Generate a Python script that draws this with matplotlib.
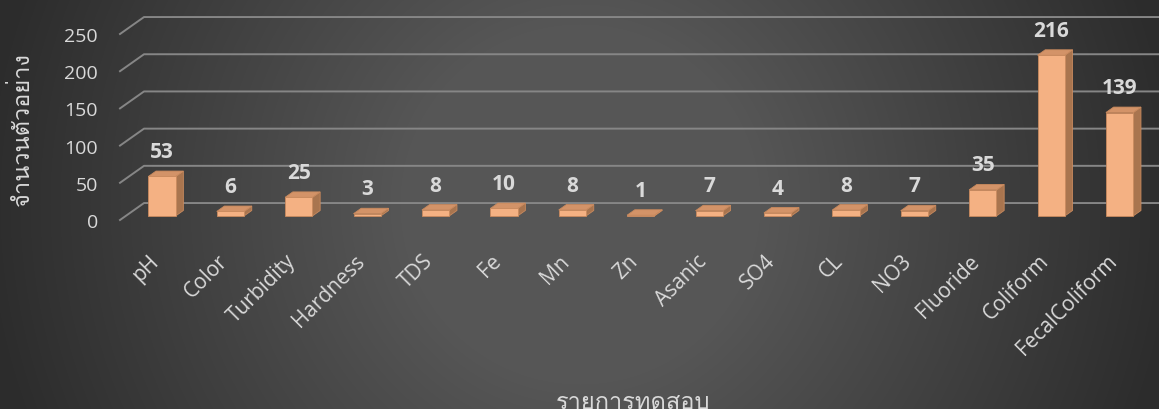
import numpy as np
import matplotlib
matplotlib.use("Agg")
import matplotlib.pyplot as plt
from matplotlib import font_manager
from matplotlib.patches import Polygon

# --- Данные графика ---
categories = ["pH", "Color", "Turbidity", "Hardness", "TDS", "Fe", "Mn", "Zn",
              "Asanic", "SO4", "CL", "NO3", "Fluoride", "Coliform", "FecalColiform"]
sample_counts = [53, 6, 25, 3, 8, 10, 8, 1, 7, 4, 8, 7, 35, 216, 139]
y_ticks = [0, 50, 100, 150, 200, 250]
y_axis_title = "จำนวนตัวอย่าง"
x_axis_title = "รายการทดสอบ"

# --- Геометрия псевдо-3D ---
DEPTH_X = 0.351   # глубина стенки по оси X (в категориях)
DEPTH_Y = 22.8    # глубина стенки по оси Y (в единицах значения)
Z_FRONT = 0.24
Z_BACK = 0.56
BAR_WIDTH = 0.40
PX_PER_CATEGORY = 68.4

TEXT_COLOR = "#D9D9D9"
GRID_COLOR = "#868686"
FRONT_COLOR = "#F4B183"
TOP_COLOR = "#D39368"
SIDE_COLOR = "#A9754F"
EDGE_COLOR = "#C98A5E"


def find_thai_family():
    """Ищет установленный шрифт с тайскими глифами."""
    try:
        from fontTools.ttLib import TTFont
    except ImportError:
        return None
    for entry in font_manager.fontManager.ttflist:
        try:
            cmap = TTFont(entry.fname, fontNumber=0, lazy=True).getBestCmap()
        except Exception:
            continue
        if cmap and 0x0E08 in cmap:
            return entry.name
    return None


def project(x, value, z):
    return x + z * DEPTH_X, value + z * DEPTH_Y


def draw_bar(axes, x, value):
    x0, x1 = x - BAR_WIDTH / 2, x + BAR_WIDTH / 2
    front = [project(x0, 0, Z_FRONT), project(x1, 0, Z_FRONT),
             project(x1, value, Z_FRONT), project(x0, value, Z_FRONT)]
    top = [project(x0, value, Z_FRONT), project(x1, value, Z_FRONT),
           project(x1, value, Z_BACK), project(x0, value, Z_BACK)]
    side = [project(x1, 0, Z_FRONT), project(x1, 0, Z_BACK),
            project(x1, value, Z_BACK), project(x1, value, Z_FRONT)]
    for verts, color in ((side, SIDE_COLOR), (top, TOP_COLOR), (front, FRONT_COLOR)):
        axes.add_patch(Polygon(verts, closed=True, facecolor=color, edgecolor=EDGE_COLOR,
                               linewidth=0.6, zorder=3, clip_on=False))


thai_family = find_thai_family()
latin_family = ["Open Sans", "DejaVu Sans"]
thai_families = ([thai_family] if thai_family else []) + latin_family
plt.rcParams['font.family'] = latin_family

figure = plt.figure(figsize=(11.59, 4.10), dpi=100)

# Фон: радиальный градиент от центра к краям
bg_axes = figure.add_axes([0, 0, 1, 1], zorder=-1)
yy, xx = np.mgrid[0:410, 0:1159]
distance = np.hypot(xx - 580, yy - 205)
shade = (86 - 42 * np.clip((distance - 180) / 420.0, 0, 1)) / 255.0
bg_axes.imshow(np.dstack([shade, shade, shade]), aspect='auto', interpolation='bilinear')
bg_axes.axis('off')

# Основные оси
left_px, right_px, zero_px, top_px = 120, 1159, 221, 35
axes = figure.add_axes([left_px / 1159, (410 - zero_px) / 410,
                        (right_px - left_px) / 1159, (zero_px - top_px) / 410])
axes.set_facecolor('none')
x_left = Z_FRONT * DEPTH_X - 42 / PX_PER_CATEGORY
x_right = x_left + (right_px - left_px) / PX_PER_CATEGORY
axes.set_xlim(x_left, x_right)
axes.set_ylim(0, 250)
for spine in axes.spines.values():
    spine.set_visible(False)

# Линии сетки (стенка и пол)
for tick in y_ticks:
    axes.plot([x_left, x_left + DEPTH_X, x_right + 1], [tick, tick + DEPTH_Y, tick + DEPTH_Y],
              color=GRID_COLOR, linewidth=1.4, zorder=1, clip_on=False)

positions = np.arange(len(categories))
for x, value in zip(positions, sample_counts):
    draw_bar(axes, x, value)
    cx, cy = project(x, value, Z_FRONT)
    axes.annotate(str(value), xy=(cx, cy), xytext=(0, 14), textcoords='offset points',
                  ha='center', va='baseline', fontsize=15, fontweight='bold',
                  color=TEXT_COLOR, zorder=4, annotation_clip=False)

axes.set_yticks(y_ticks, [str(t) for t in y_ticks])
axes.tick_params(axis='y', length=0, pad=16, labelsize=14, labelcolor=TEXT_COLOR)

axes.set_xticks(positions + Z_FRONT * DEPTH_X - 6 / PX_PER_CATEGORY, categories)
axes.tick_params(axis='x', length=0, pad=27, labelsize=15, labelcolor=TEXT_COLOR)
for label in axes.get_xticklabels():
    label.set_rotation(45)
    label.set_ha('right')
    label.set_va('center')
    label.set_rotation_mode('anchor')

figure.text(22 / 1159, 1 - 129 / 410, y_axis_title, rotation=90, ha='center', va='center',
            fontsize=17, color=TEXT_COLOR, family=thai_families)
figure.text(633 / 1159, (410 - 409) / 410, x_axis_title, ha='center', va='baseline',
            fontsize=17, color=TEXT_COLOR, family=thai_families)

figure.savefig("out.png", dpi=100)
plt.close(figure)
